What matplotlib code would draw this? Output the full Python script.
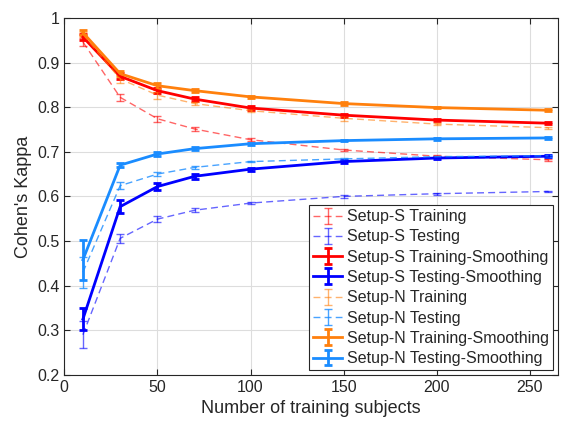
import numpy as np
import matplotlib.pyplot as plt

plt.rcParams['font.family'] = ['Liberation Sans', 'DejaVu Sans']

# datos
x = [10, 30, 50, 70, 100, 150, 200, 260]

s_train = [0.946, 0.822, 0.774, 0.751, 0.727, 0.704, 0.690, 0.682]
s_train_err = [0.008, 0.008, 0.007, 0.004, 0.004, 0.003, 0.003, 0.002]
s_test = [0.290, 0.506, 0.549, 0.569, 0.585, 0.600, 0.606, 0.611]
s_test_err = [0.030, 0.010, 0.007, 0.004, 0.003, 0.003, 0.002, 0.002]
s_train_sm = [0.957, 0.869, 0.837, 0.818, 0.798, 0.782, 0.771, 0.764]
s_train_sm_err = [0.006, 0.007, 0.006, 0.005, 0.004, 0.003, 0.003, 0.002]
s_test_sm = [0.325, 0.577, 0.622, 0.645, 0.661, 0.678, 0.686, 0.690]
s_test_sm_err = [0.025, 0.015, 0.008, 0.005, 0.003, 0.003, 0.002, 0.002]

n_train = [0.963, 0.863, 0.827, 0.808, 0.792, 0.775, 0.762, 0.754]
n_train_err = [0.006, 0.008, 0.008, 0.004, 0.004, 0.005, 0.003, 0.002]
n_test = [0.430, 0.624, 0.650, 0.665, 0.678, 0.684, 0.689, 0.691]
n_test_err = [0.035, 0.008, 0.004, 0.003, 0.002, 0.002, 0.002, 0.002]
n_train_sm = [0.967, 0.875, 0.848, 0.837, 0.823, 0.808, 0.799, 0.793]
n_train_sm_err = [0.005, 0.005, 0.007, 0.004, 0.003, 0.003, 0.002, 0.002]
n_test_sm = [0.458, 0.670, 0.695, 0.707, 0.718, 0.725, 0.729, 0.731]
n_test_sm_err = [0.045, 0.005, 0.004, 0.003, 0.002, 0.002, 0.002, 0.002]

red = (1, 0, 0)
blue = (0, 0, 1)
orange = (1, 0.5, 0.05)
lblue = (0.1, 0.55, 1)

fig = plt.figure(figsize=(5.64, 4.26), dpi=100)
ax = fig.add_axes([0.114, 0.12, 0.875, 0.838])

series = [
    (s_train, s_train_err, red, '--', 1.0, 0.6, 'Setup-S Training'),
    (s_test, s_test_err, blue, '--', 1.0, 0.6, 'Setup-S Testing'),
    (s_train_sm, s_train_sm_err, red, '-', 2.0, 1.0, 'Setup-S Training-Smoothing'),
    (s_test_sm, s_test_sm_err, blue, '-', 2.0, 1.0, 'Setup-S Testing-Smoothing'),
    (n_train, n_train_err, orange, '--', 1.0, 0.6, 'Setup-N Training'),
    (n_test, n_test_err, lblue, '--', 1.0, 0.8, 'Setup-N Testing'),
    (n_train_sm, n_train_sm_err, orange, '-', 2.0, 1.0, 'Setup-N Training-Smoothing'),
    (n_test_sm, n_test_sm_err, lblue, '-', 2.0, 1.0, 'Setup-N Testing-Smoothing'),
]

for y, e, c, ls, lw, a, lab in series:
    ax.errorbar(x, y, yerr=e, color=c, ls=ls, lw=lw, alpha=a, capsize=3,
                elinewidth=lw, capthick=lw, label=lab, dashes=(5, 3) if ls == '--' else None)

ax.set_xlim(0, 265)
ax.set_ylim(0.2, 1.0)
ax.set_xticks([0, 50, 100, 150, 200, 250])
ax.set_yticks(np.arange(0.2, 1.01, 0.1))
ax.set_yticklabels(['0.2', '0.3', '0.4', '0.5', '0.6', '0.7', '0.8', '0.9', '1'])
ax.grid(True, color='#dddddd', lw=0.8)
ax.set_axisbelow(True)
ax.tick_params(direction='in', top=True, right=True, labelsize=11.5, colors='#262626', length=4)
for sp in ax.spines.values():
    sp.set_color('#262626')
ax.set_xlabel('Number of training subjects', fontsize=13, color='#262626')
ax.set_ylabel("Cohen's Kappa", fontsize=13, color='#262626')

leg = ax.legend(loc='lower right', bbox_to_anchor=(1.0, 0.0), fontsize=11.5, fancybox=False,
                edgecolor='#262626', framealpha=1, handlelength=1.8, labelspacing=0.33,
                borderpad=0.25, handletextpad=0.3, borderaxespad=0.3)
leg.get_frame().set_linewidth(0.8)
for t in leg.get_texts():
    t.set_color('#262626')

fig.savefig('out.png', dpi=100)
